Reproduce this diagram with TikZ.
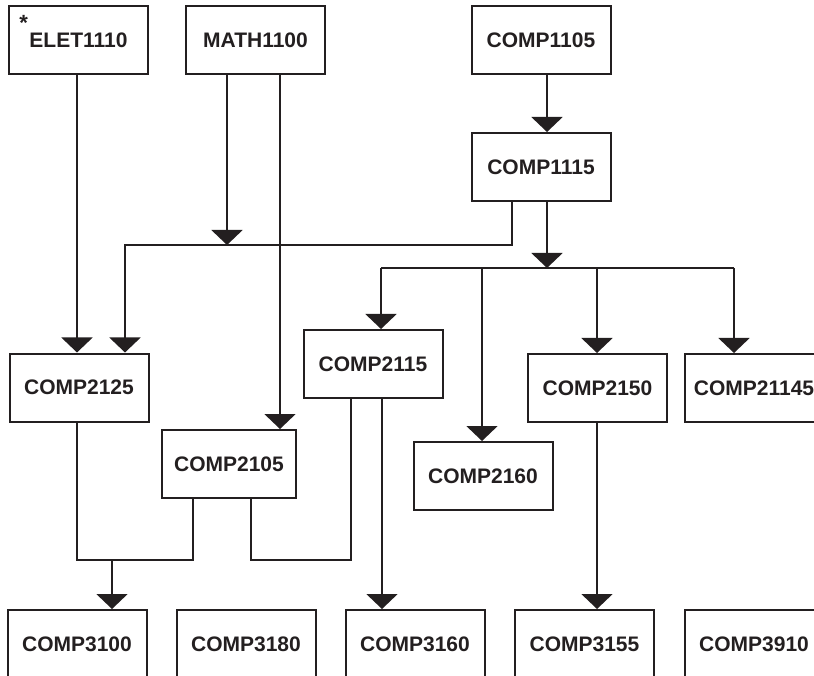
\documentclass[tikz,border=0pt]{standalone}
\usepackage{fontspec}
\setmainfont{Liberation Sans}
\usetikzlibrary{arrows.meta}
\definecolor{ink}{RGB}{35,31,32}

\begin{document}
\begin{tikzpicture}[
  x = 1pt, y = -1pt,
  line width = 2pt, ink,
  course/.style = {draw = ink, text = ink, rectangle, minimum width = 139pt, minimum height = 68pt, inner sep = 0pt,
                   font = \fontsize{21}{25}\selectfont\bfseries},
  arr/.style = {-{Triangle[length = 15pt, width = 31pt]}},
  ]
  \useasboundingbox (0,0) rectangle (814,676);
  % courses
  \node[course] (elet)   at (78.5,40)  {\llap{\raisebox{17pt}[0pt][0pt]{\fontsize{22}{22}\selectfont *}\hspace{1.5pt}}ELET1110};
  \node[course] (math)   at (255.5,40) {MATH1100};
  \node[course] (c1105)  at (541,40)   {COMP1105};
  \node[course] (c1115)  at (541,167)  {COMP1115};
  \node[course] (c2125)  at (79,387.5) {COMP2125};
  \node[course] (c2115)  at (373,364)  {COMP2115};
  \node[course] (c2150)  at (597.5,388) {COMP2150};
  \node[course] (c21145) at (754,388)  {COMP21145};
  \node[course, minimum width = 134pt] (c2105) at (229,464) {COMP2105};
  \node[course] (c2160)  at (483,476)  {COMP2160};
  \node[course] (c3100)  at (77,644)   {COMP3100};
  \node[course] (c3180)  at (246,644)  {COMP3180};
  \node[course] (c3160)  at (415,644)  {COMP3160};
  \node[course] (c3155)  at (584.5,644) {COMP3155};
  \node[course] (c3910)  at (754,644)  {COMP3910};
  % junctions
  \coordinate (mA) at (227,245);
  \coordinate (mB) at (280,0);
  \coordinate (k1) at (512,245);
  \coordinate (k2) at (125,245);
  \coordinate (bus) at (547,268);
  \coordinate (bL) at (381,268);
  \coordinate (bM) at (482,268);
  \coordinate (bN) at (597,268);
  \coordinate (bR) at (734,268);
  \coordinate (q1) at (77,560);
  \coordinate (q2) at (193,560);
  \coordinate (q3) at (112,560);
  \coordinate (r1) at (251,560);
  \coordinate (r2) at (351,560);
  % connectors
  \draw[arr] (elet.south -| q1) -- (c2125.north -| q1);
  \draw[arr] (math.south -| mA) -- (mA);
  \draw[arr] (math.south -| mB) -- (c2105.north -| mB);
  \draw[arr] (c1105.south -| bus) -- (c1115.north -| bus);
  \draw[arr] (c1115.south -| k1) -- (k1) -- (k2) -- (c2125.north -| k2);
  \draw[arr] (c1115.south -| bus) -- (bus);
  \draw (bL) -- (bR);
  \draw[arr] (bL) -- (c2115.north -| bL);
  \draw[arr] (bM) -- (c2160.north -| bM);
  \draw[arr] (bN) -- (c2150.north -| bN);
  \draw[arr] (bR) -- (c21145.north -| bR);
  \draw (c2125.south -| q1) -- (q1) -- (q2) -- (c2105.south -| q2);
  \draw[arr] (q3) -- (c3100.north -| q3);
  \draw (c2105.south -| r1) -- (r1) -- (r2) -- (c2115.south -| r2);
  \draw[arr] (c2115.south -| 382,0) -- (c3160.north -| 382,0);
  \draw[arr] (c2150.south -| bN) -- (c3155.north -| bN);
\end{tikzpicture}
\end{document}
